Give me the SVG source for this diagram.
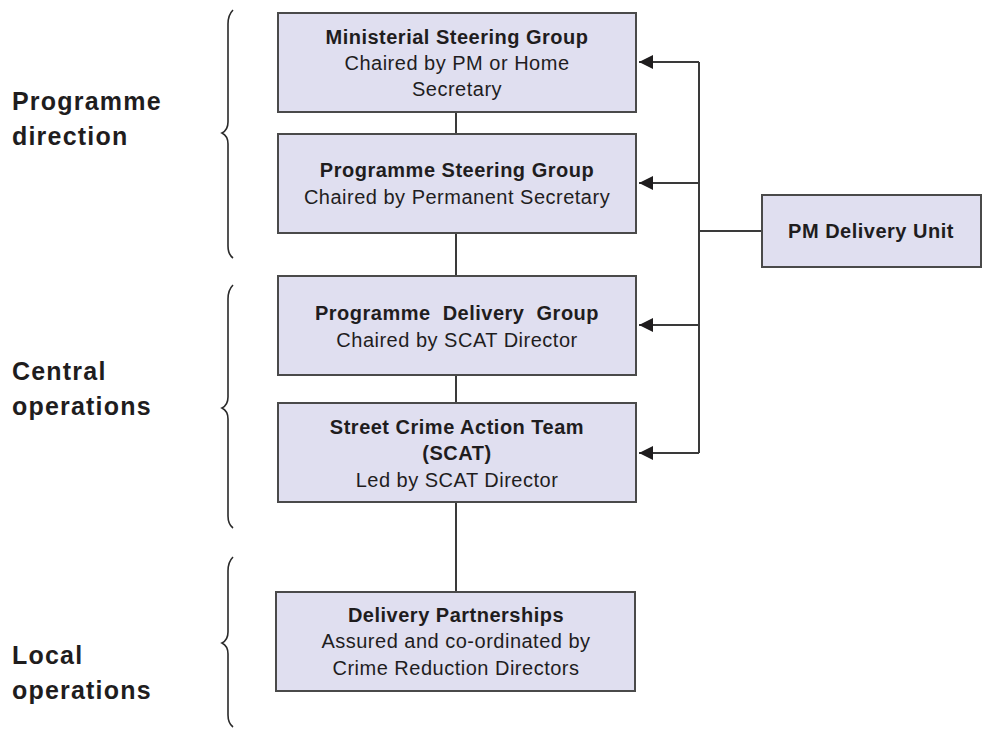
<svg xmlns="http://www.w3.org/2000/svg" width="982" height="729" viewBox="0 0 982 729">
<defs>
<style>
.box{fill:#e0dff0;stroke:#4a4a4a;stroke-width:2}
.t{font-family:"Liberation Sans",Arial,sans-serif;fill:#1f1d1e;text-anchor:middle;font-size:20px;letter-spacing:0.5px}
.b{font-weight:bold}
.lbl{font-family:"Liberation Sans",Arial,sans-serif;fill:#1f1d1e;font-weight:bold;font-size:25px;letter-spacing:1.2px}
.ln{fill:none;stroke:#3a3a3a;stroke-width:2}
.br{fill:none;stroke:#2a2a2a;stroke-width:1.6}
</style>
<marker id="ah" viewBox="0 0 14 14" refX="14" refY="7" markerWidth="14" markerHeight="14" markerUnits="userSpaceOnUse" orient="auto">
<path d="M0,0 L14,7 L0,14 Z" fill="#1f1d1e"/>
</marker>
</defs>

<g id="labels">
<text class="lbl" x="12" y="110">Programme</text>
<text class="lbl" x="12" y="145">direction</text>
<text class="lbl" x="12" y="380">Central</text>
<text class="lbl" x="12" y="415">operations</text>
<text class="lbl" x="12" y="664">Local</text>
<text class="lbl" x="12" y="699">operations</text>
</g>

<g id="braces">
<path class="br" d="M233,10 C229,14 228,18 228,24 L228,122 C228,128 226,131 222,133 C226,135 228,138 228,144 L228,246 C228,252 229,255 233,258"/>
<path class="br" d="M233,285 C229,289 228,293 228,299 L228,397 C228,403 226,406 222,408 C226,410 228,413 228,419 L228,516 C228,522 229,525 233,528"/>
<path class="br" d="M233,557 C229,561 228,565 228,571 L228,632 C228,638 226,641 222,643 C226,645 228,648 228,654 L228,715 C228,721 229,724 233,727"/>
</g>

<g id="connectors">
<line class="ln" x1="456" y1="112" x2="456" y2="134"/>
<line class="ln" x1="456" y1="233" x2="456" y2="276"/>
<line class="ln" x1="456" y1="375" x2="456" y2="403"/>
<line class="ln" x1="456" y1="502" x2="456" y2="592"/>
<line class="ln" x1="699" y1="62" x2="699" y2="453"/>
<line class="ln" x1="699" y1="231" x2="762" y2="231"/>
<line class="ln" x1="699" y1="62" x2="639" y2="62" marker-end="url(#ah)"/>
<line class="ln" x1="699" y1="183" x2="639" y2="183" marker-end="url(#ah)"/>
<line class="ln" x1="699" y1="325" x2="639" y2="325" marker-end="url(#ah)"/>
<line class="ln" x1="699" y1="453" x2="639" y2="453" marker-end="url(#ah)"/>
</g>

<g id="ministerial">
<rect class="box" x="278" y="13" width="358" height="99"/>
<text class="t b" x="457" y="44">Ministerial Steering Group</text>
<text class="t" x="457" y="70">Chaired by PM or Home</text>
<text class="t" x="457" y="96">Secretary</text>
</g>

<g id="psg">
<rect class="box" x="278" y="134" width="358" height="99"/>
<text class="t b" x="457" y="177">Programme Steering Group</text>
<text class="t" x="457" y="204">Chaired by Permanent Secretary</text>
</g>

<g id="pdg">
<rect class="box" x="278" y="276" width="358" height="99"/>
<text class="t b" x="457" y="320" word-spacing="6">Programme Delivery Group</text>
<text class="t" x="457" y="347">Chaired by SCAT Director</text>
</g>

<g id="scat">
<rect class="box" x="278" y="403" width="358" height="99"/>
<text class="t b" x="457" y="434">Street Crime Action Team</text>
<text class="t b" x="457" y="460">(SCAT)</text>
<text class="t" x="457" y="487">Led by SCAT Director</text>
</g>

<g id="partnerships">
<rect class="box" x="276" y="592" width="359" height="99"/>
<text class="t b" x="456" y="622">Delivery Partnerships</text>
<text class="t" x="456" y="648">Assured and co-ordinated by</text>
<text class="t" x="456" y="675">Crime Reduction Directors</text>
</g>

<g id="pmdu">
<rect class="box" x="762" y="195" width="219" height="72"/>
<text class="t b" x="871" y="238">PM Delivery Unit</text>
</g>
</svg>
